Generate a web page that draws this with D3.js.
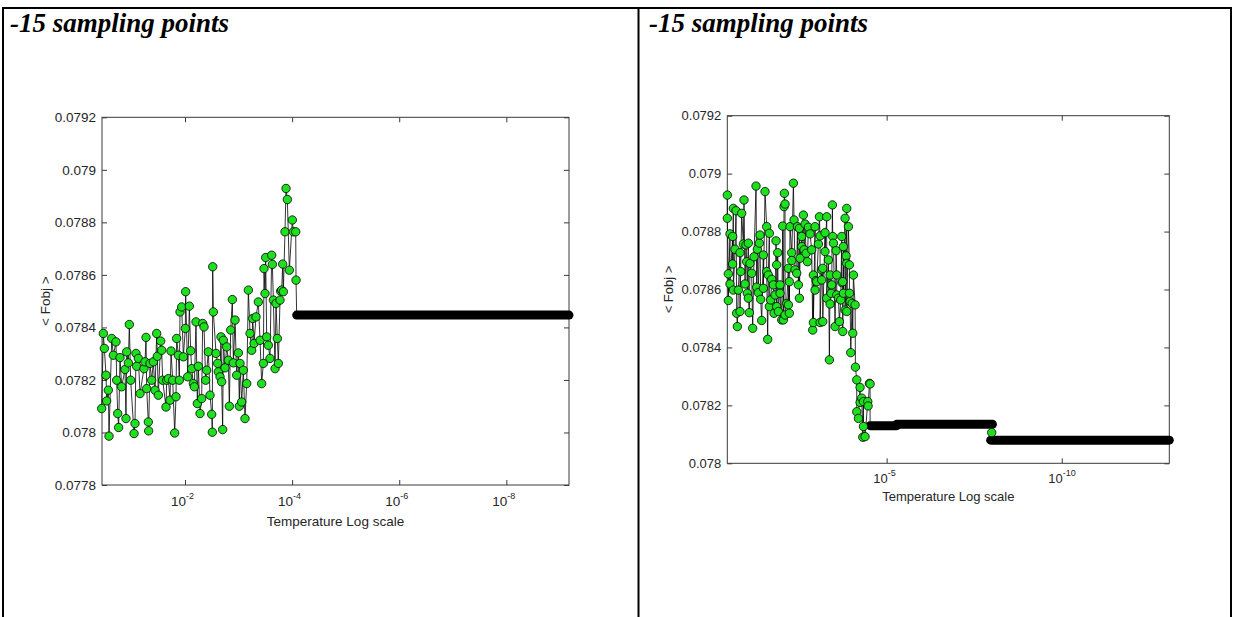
<!DOCTYPE html>
<html>
<head>
<meta charset="utf-8">
<script src="https://cdn.jsdelivr.net/npm/d3@7"></script>
<style>
  body { margin: 0; background: #fff; }
  svg { display: block; }
</style>
</head>
<body>
<svg id="page" width="1234" height="617"></svg>
<script>
// ---- left panel data (temperature as log10 exponent, <Fobj>) ----
const leftLogT = [-0.444,-0.475,-0.494,-0.525,-0.537,-0.568,-0.581,-0.631,-0.662,-0.711,-0.724,-0.743,-0.761,-0.786,-0.817,-0.880,-0.898,-0.911,-0.942,-0.960,
  -0.985,-1.048,-1.066,-1.085,-1.097,-1.129,-1.160,-1.234,-1.253,-1.272,-1.284,-1.315,-1.321,-1.346,-1.378,-1.409,-1.440,-1.471,-1.483,-1.502,
  -1.546,-1.564,-1.583,-1.645,-1.658,-1.689,-1.720,-1.739,-1.770,-1.807,-1.832,-1.844,-1.876,-1.894,-1.907,-1.938,-1.969,-2.006,-2.012,-2.050,
  -2.081,-2.106,-2.124,-2.156,-2.174,-2.205,-2.230,-2.249,-2.280,-2.311,-2.330,-2.355,-2.386,-2.405,-2.436,-2.467,-2.498,-2.510,-2.517,-2.529,
  -2.579,-2.610,-2.622,-2.654,-2.672,-2.685,-2.703,-2.716,-2.747,-2.778,-2.809,-2.828,-2.853,-2.884,-2.903,-2.934,-2.965,-2.996,-3.015,-3.027,
  -3.058,-3.089,-3.120,-3.152,-3.183,-3.214,-3.245,-3.264,-3.289,-3.326,-3.369,-3.401,-3.432,-3.463,-3.475,-3.494,-3.506,-3.525,-3.556,-3.587,
  -3.618,-3.631,-3.650,-3.681,-3.699,-3.724,-3.743,-3.774,-3.786,-3.805,-3.824,-3.836,-3.867,-3.886,-3.911,-3.948,-4.004,-4.023,-4.067,-4.073];
const leftFobj = [0.078091,0.078377,0.078320,0.078218,0.078120,0.078161,0.077986,0.078358,0.078294,0.078345,0.078199,0.078072,0.078019,0.078285,0.078174,0.078240,0.078053,0.078307,0.078265,0.078411,
  0.078199,0.077996,0.078034,0.078301,0.078252,0.078282,0.078148,0.078243,0.078269,0.078362,0.078167,0.078040,0.078006,0.078263,0.078199,0.078269,0.078161,0.078377,0.078290,0.078142,
  0.078348,0.078313,0.078199,0.078097,0.078199,0.078205,0.078123,0.078310,0.078199,0.077998,0.078136,0.078358,0.078294,0.078199,0.078459,0.078478,0.078288,0.078396,0.078536,0.078212,
  0.078481,0.078311,0.078243,0.078186,0.078174,0.078421,0.078110,0.078252,0.078072,0.078129,0.078415,0.078402,0.078199,0.078237,0.078307,0.078142,0.078069,0.078001,0.078631,0.078459,
  0.078301,0.078263,0.078231,0.078212,0.078364,0.078193,0.078011,0.078351,0.078246,0.078326,0.078275,0.078100,0.078390,0.078506,0.078265,0.078428,0.078218,0.078303,0.078100,0.078263,
  0.078116,0.078237,0.078053,0.078186,0.078542,0.078377,0.078313,0.078434,0.078339,0.078440,0.078497,0.078351,0.078186,0.078263,0.078624,0.078529,0.078666,0.078364,0.078332,0.078282,
  0.078675,0.078640,0.078504,0.078243,0.078491,0.078358,0.078263,0.078504,0.078538,0.078542,0.078641,0.078536,0.078764,0.078929,0.078887,0.078618,0.078809,0.078764,0.078764,0.078580];
// frozen stretches: [from exponent, to exponent, value]
const leftPlateaus = [[-4.085, -9.17, 0.078447]];
const leftStepLogT = [];
const leftStepFobj = [];
const leftYTicks = [0.0778, 0.078, 0.0782, 0.0784, 0.0786, 0.0788, 0.079, 0.0792];
const leftXTicks = [-2, -4, -6, -8];
const leftXRange = [-0.45, -9.17];

// ---- right panel data ----
const rightLogT = [-0.451,-0.451,-0.479,-0.479,-0.527,-0.527,-0.603,-0.603,-0.622,-0.622,-0.670,-0.699,-0.718,-0.737,-0.765,-0.813,-0.813,-0.832,-0.860,-0.908,
  -0.927,-0.956,-0.984,-1.003,-1.022,-1.051,-1.051,-1.080,-1.099,-1.146,-1.175,-1.213,-1.270,-1.289,-1.308,-1.337,-1.365,-1.384,-1.403,-1.432,
  -1.480,-1.480,-1.527,-1.575,-1.575,-1.603,-1.622,-1.651,-1.651,-1.689,-1.718,-1.765,-1.784,-1.813,-1.841,-1.860,-1.860,-1.889,-1.908,-1.956,
  -1.956,-2.003,-2.032,-2.051,-2.070,-2.080,-2.099,-2.099,-2.146,-2.194,-2.194,-2.222,-2.222,-2.241,-2.289,-2.289,-2.337,-2.356,-2.384,-2.432,
  -2.451,-2.480,-2.508,-2.508,-2.527,-2.575,-2.575,-2.622,-2.641,-2.670,-2.699,-2.737,-2.765,-2.813,-2.860,-2.889,-2.908,-2.908,-2.956,-2.956,
  -2.984,-3.003,-3.051,-3.080,-3.099,-3.099,-3.146,-3.146,-3.175,-3.175,-3.241,-3.241,-3.289,-3.289,-3.337,-3.365,-3.384,-3.384,-3.413,-3.432,
  -3.451,-3.461,-3.480,-3.527,-3.556,-3.575,-3.575,-3.622,-3.651,-3.689,-3.718,-3.718,-3.746,-3.746,-3.765,-3.765,-3.813,-3.813,-3.841,-3.860,
  -3.860,-3.860,-3.908,-3.937,-3.937,-3.956,-3.975,-4.013,-4.032,-4.051,-4.099,-4.108,-4.146,-4.146,-4.194,-4.241,-4.241,-4.289,-4.318,-4.337,
  -4.337,-4.384,-4.461,-4.470,-4.508,-4.527];
const rightFobj = [0.078926,0.078846,0.078654,0.078562,0.078792,0.078619,0.078783,0.078688,0.078880,0.078598,0.078739,0.078872,0.078518,0.078472,0.078598,0.078727,0.078524,0.078662,0.078863,0.078757,
  0.078909,0.078619,0.078754,0.078696,0.078587,0.078760,0.078570,0.078520,0.078690,0.078656,0.078466,0.078713,0.078957,0.078608,0.078739,0.078589,0.078760,0.078788,0.078566,0.078493,
  0.078719,0.078604,0.078938,0.078817,0.078662,0.078428,0.078650,0.078794,0.078541,0.078564,0.078635,0.078616,0.078518,0.078581,0.078768,0.078685,0.078541,0.078727,0.078524,0.078616,
  0.078587,0.078495,0.078819,0.078495,0.078886,0.078932,0.078895,0.078512,0.078552,0.078673,0.078547,0.078627,0.078518,0.078817,0.078727,0.078700,0.078967,0.078840,0.078668,0.078656,
  0.078817,0.078616,0.078811,0.078570,0.078708,0.078783,0.078748,0.078857,0.078737,0.078826,0.078725,0.078696,0.078815,0.078792,0.078737,0.078460,0.078650,0.078486,0.078817,0.078598,
  0.078631,0.078627,0.078757,0.078851,0.078785,0.078486,0.078668,0.078633,0.078673,0.078489,0.078796,0.078731,0.078851,0.078570,0.078702,0.078357,0.078650,0.078550,0.078587,0.078616,
  0.078892,0.078783,0.078760,0.078472,0.078734,0.078650,0.078581,0.078570,0.078489,0.078564,0.078783,0.078624,0.078627,0.078455,0.078748,0.078587,0.078846,0.078529,0.078716,0.078880,
  0.078690,0.078524,0.078817,0.078685,0.078587,0.078558,0.078382,0.078552,0.078449,0.078650,0.078547,0.078332,0.078288,0.078178,0.078155,0.078262,0.078210,0.078225,0.078090,0.078213,
  0.078127,0.078092,0.078213,0.078198,0.078276,0.078274];
const rightPlateaus = [[-4.527, -5.29, 0.07813], [-5.29, -8.02, 0.078135], [-7.97, -13.07, 0.07808]];
const rightStepLogT = [-8.0];
const rightStepFobj = [0.078106];
const rightYTicks = [0.078, 0.0782, 0.0784, 0.0786, 0.0788, 0.079, 0.0792];
const rightXTicks = [-5, -10];
const rightXRange = [-0.45, -13.07];

const svg = d3.select("#page");
const textColor = "#262626";
const axisColor = "#3a3a3a";

// table frame around the two cells
const rules = [[2, 8, 1232, 8], [3, 8, 3, 617], [638.5, 8, 638.5, 617], [1231, 8, 1231, 617]];
svg.append("g").selectAll("line").data(rules).enter().append("line")
  .attr("x1", d => d[0]).attr("y1", d => d[1]).attr("x2", d => d[2]).attr("y2", d => d[3])
  .attr("stroke", "#000").attr("stroke-width", 2);

function drawPanel(p) {
  // cell caption
  svg.append("text")
    .attr("x", p.titleX).attr("y", 32)
    .attr("font-family", "'Liberation Serif', 'Times New Roman', serif")
    .attr("font-weight", "bold").attr("font-style", "italic")
    .attr("font-size", 27).attr("fill", "#000")
    .text("-15 sampling points");

  const g = svg.append("g");
  const x = d3.scaleLog()
    .domain([Math.pow(10, p.xRange[0]), Math.pow(10, p.xRange[1])])
    .range([p.left, p.right]);
  const y = d3.scaleLinear()
    .domain([p.yTicks[0], p.yTicks[p.yTicks.length - 1]])
    .range([p.bottom, p.top]);

  const font = "'Liberation Sans', Arial, sans-serif";
  const xt = p.xTicks.map(e => Math.pow(10, e));

  // axes: ticks point inward on all four sides like the matlab box
  const bottom = g.append("g").attr("transform", "translate(0," + p.bottom + ")")
    .call(d3.axisBottom(x).tickValues(xt).tickSizeInner(-5).tickSizeOuter(0).tickFormat(""));
  const top = g.append("g").attr("transform", "translate(0," + p.top + ")")
    .call(d3.axisTop(x).tickValues(xt).tickSizeInner(-5).tickSizeOuter(0).tickFormat(""));
  const left = g.append("g").attr("transform", "translate(" + p.left + ",0)")
    .call(d3.axisLeft(y).tickValues(p.yTicks).tickSizeInner(-5).tickSizeOuter(0).tickPadding(6)
      .tickFormat(d => String(+d.toFixed(4))));
  const right = g.append("g").attr("transform", "translate(" + p.right + ",0)")
    .call(d3.axisRight(y).tickValues(p.yTicks).tickSizeInner(-5).tickSizeOuter(0).tickFormat(""));
  [bottom, top, left, right].forEach(a => {
    a.select(".domain").remove();
    a.selectAll("line").attr("stroke", axisColor);
  });
  left.selectAll("text").attr("font-family", font).attr("font-size", p.fs).attr("fill", textColor);

  g.append("rect")
    .attr("x", p.left).attr("y", p.top)
    .attr("width", p.right - p.left).attr("height", p.bottom - p.top)
    .attr("fill", "none").attr("stroke", axisColor).attr("stroke-width", 1);

  // 10^-k labels
  const lab = g.append("g").selectAll("g").data(p.xTicks).enter().append("g")
    .attr("transform", e => "translate(" + x(Math.pow(10, e)) + "," + (p.bottom + p.tickDy) + ")");
  lab.append("text").attr("text-anchor", "end").attr("x", 1)
    .attr("font-family", font).attr("font-size", p.fs).attr("fill", textColor).text("10");
  lab.append("text").attr("text-anchor", "start").attr("x", 1).attr("y", -7)
    .attr("font-family", font).attr("font-size", 9).attr("fill", textColor).text(e => String(e));

  g.append("text")
    .attr("x", (p.left + p.right) / 2).attr("y", p.bottom + p.labelDy)
    .attr("text-anchor", "middle")
    .attr("font-family", font).attr("font-size", p.fs).attr("fill", textColor)
    .text("Temperature Log scale");
  g.append("text")
    .attr("transform", "translate(" + p.ylabX + "," + (p.top + p.bottom) / 2 + ") rotate(-90)")
    .attr("text-anchor", "middle").attr("dy", "0.35em")
    .attr("font-family", font).attr("font-size", p.fs).attr("fill", textColor)
    .text("< Fobj >");

  // series
  const pts = p.logT.map((e, i) => [Math.pow(10, e), p.fobj[i]]);
  const tail = [];
  p.plateaus.forEach(q => { tail.push([Math.pow(10, q[0]), q[2]]); tail.push([Math.pow(10, q[1]), q[2]]); });
  const line = d3.line().x(d => x(d[0])).y(d => y(d[1]));

  g.append("path").datum(pts.concat(tail))
    .attr("d", line).attr("fill", "none")
    .attr("stroke", "#000").attr("stroke-width", 0.8);

  // the frozen stretches are thousands of overlapping markers -> solid black band
  g.append("g").selectAll("line").data(p.plateaus).enter().append("line")
    .attr("x1", q => x(Math.pow(10, q[0]))).attr("x2", q => x(Math.pow(10, q[1])))
    .attr("y1", q => y(q[2])).attr("y2", q => y(q[2]))
    .attr("stroke", "#000").attr("stroke-width", 9).attr("stroke-linecap", "round");

  const steps = p.stepLogT.map((e, i) => [Math.pow(10, e), p.stepFobj[i]]);
  g.append("g").selectAll("circle").data(pts.concat(steps)).enter().append("circle")
    .attr("cx", d => x(d[0])).attr("cy", d => y(d[1])).attr("r", 4.2)
    .attr("fill", "#1fe01f").attr("stroke", "#000").attr("stroke-width", 0.8);
}

drawPanel({
  logT: leftLogT, fobj: leftFobj, plateaus: leftPlateaus, stepLogT: leftStepLogT, stepFobj: leftStepFobj,
  yTicks: leftYTicks, xTicks: leftXTicks, xRange: leftXRange,
  left: 102, right: 569, top: 117.3, bottom: 485,
  fs: 13.5, tickDy: 21, labelDy: 41, ylabX: 45, titleX: 10
});
drawPanel({
  logT: rightLogT, fobj: rightFobj, plateaus: rightPlateaus, stepLogT: rightStepLogT, stepFobj: rightStepFobj,
  yTicks: rightYTicks, xTicks: rightXTicks, xRange: rightXRange,
  left: 727.3, right: 1169.3, top: 115.7, bottom: 463.3,
  fs: 13, tickDy: 20, labelDy: 38, ylabX: 668, titleX: 649
});
</script>
</body>
</html>
